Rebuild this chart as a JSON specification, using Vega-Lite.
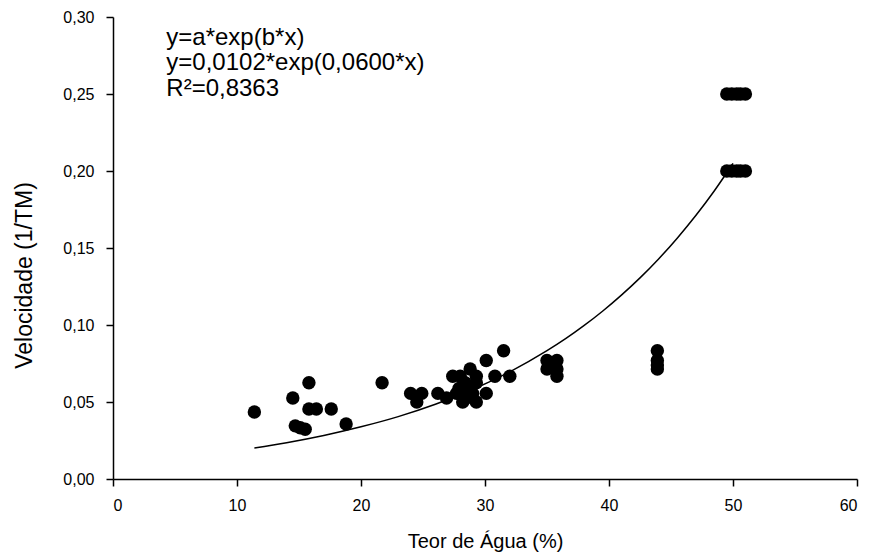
{
  "$schema": "https://vega.github.io/schema/vega-lite/v6.json",
  "width": 744,
  "height": 462,
  "autosize": "none",
  "padding": {"left": 113, "top": 17, "right": 12, "bottom": 77},
  "background": "white",
  "config": {
    "view": {"stroke": null},
    "font": "Liberation Sans",
    "axis": {
      "grid": false,
      "domainColor": "black",
      "domainWidth": 1.5,
      "tickColor": "black",
      "tickWidth": 1.5,
      "tickSize": 7,
      "labelColor": "black",
      "labelFont": "Liberation Sans",
      "labelFontSize": 16,
      "titleFont": "Liberation Sans",
      "titleFontWeight": "normal",
      "titleColor": "black"
    }
  },
  "datasets": {
    "pts": [
      {"teor": 11.4, "vel": 0.0435},
      {"teor": 14.5, "vel": 0.0526},
      {"teor": 14.7, "vel": 0.0345},
      {"teor": 15.1, "vel": 0.0333},
      {"teor": 15.5, "vel": 0.0323},
      {"teor": 15.8, "vel": 0.0625},
      {"teor": 15.8, "vel": 0.0455},
      {"teor": 16.4, "vel": 0.0455},
      {"teor": 17.6, "vel": 0.0455},
      {"teor": 18.8, "vel": 0.0357},
      {"teor": 21.7, "vel": 0.0625},
      {"teor": 24.0, "vel": 0.0556},
      {"teor": 24.9, "vel": 0.0556},
      {"teor": 24.5, "vel": 0.05},
      {"teor": 26.2, "vel": 0.0556},
      {"teor": 26.9, "vel": 0.0526},
      {"teor": 27.4, "vel": 0.0667},
      {"teor": 28.0, "vel": 0.0667},
      {"teor": 28.8, "vel": 0.0714},
      {"teor": 28.4, "vel": 0.0625},
      {"teor": 29.3, "vel": 0.0625},
      {"teor": 29.3, "vel": 0.0667},
      {"teor": 27.7, "vel": 0.0556},
      {"teor": 27.9, "vel": 0.0588},
      {"teor": 28.5, "vel": 0.0588},
      {"teor": 28.5, "vel": 0.0526},
      {"teor": 29.0, "vel": 0.0556},
      {"teor": 29.3, "vel": 0.05},
      {"teor": 28.2, "vel": 0.05},
      {"teor": 30.1, "vel": 0.0556},
      {"teor": 30.1, "vel": 0.0769},
      {"teor": 31.5, "vel": 0.0833},
      {"teor": 30.8, "vel": 0.0667},
      {"teor": 32.0, "vel": 0.0667},
      {"teor": 35.0, "vel": 0.0769},
      {"teor": 35.0, "vel": 0.0714},
      {"teor": 35.8, "vel": 0.0769},
      {"teor": 35.8, "vel": 0.0714},
      {"teor": 35.8, "vel": 0.0667},
      {"teor": 43.9, "vel": 0.0833},
      {"teor": 43.9, "vel": 0.0769},
      {"teor": 43.9, "vel": 0.0741},
      {"teor": 43.9, "vel": 0.0714},
      {"teor": 49.5, "vel": 0.25},
      {"teor": 49.9, "vel": 0.25},
      {"teor": 50.3, "vel": 0.25},
      {"teor": 50.6, "vel": 0.25},
      {"teor": 51.0, "vel": 0.25},
      {"teor": 49.5, "vel": 0.2},
      {"teor": 49.9, "vel": 0.2},
      {"teor": 50.3, "vel": 0.2},
      {"teor": 50.6, "vel": 0.2},
      {"teor": 51.0, "vel": 0.2}
    ],
    "fit": [
      {"teor": 11.4, "vel": 0.0202},
      {"teor": 14, "vel": 0.0236},
      {"teor": 17, "vel": 0.0283},
      {"teor": 20, "vel": 0.0339},
      {"teor": 23, "vel": 0.0405},
      {"teor": 26, "vel": 0.0485},
      {"teor": 29, "vel": 0.0581},
      {"teor": 32, "vel": 0.0696},
      {"teor": 35, "vel": 0.0833},
      {"teor": 36.5, "vel": 0.0911},
      {"teor": 38, "vel": 0.0997},
      {"teor": 39.5, "vel": 0.1091},
      {"teor": 41, "vel": 0.1194},
      {"teor": 42.5, "vel": 0.1306},
      {"teor": 44, "vel": 0.1429},
      {"teor": 45.5, "vel": 0.1564},
      {"teor": 47, "vel": 0.1711},
      {"teor": 48.5, "vel": 0.1872},
      {"teor": 50, "vel": 0.2049}
    ],
    "notes": [
      {"teor": 4.3, "vel": 0.2865, "txt": "y=a*exp(b*x)"},
      {"teor": 4.3, "vel": 0.2700, "txt": "y=0,0102*exp(0,0600*x)"},
      {"teor": 4.3, "vel": 0.2535, "txt": "R²=0,8363"}
    ]
  },
  "encoding": {
    "x": {
      "field": "teor", "type": "quantitative",
      "scale": {"domain": [0, 60], "nice": false, "zero": false},
      "axis": {"values": [0, 10, 20, 30, 40, 50, 60], "title": "Teor de Água (%)", "titleFontSize": 20, "labelPadding": 11, "titlePadding": 18}
    },
    "y": {
      "field": "vel", "type": "quantitative",
      "scale": {"domain": [0, 0.3], "nice": false},
      "axis": {"values": [0, 0.05, 0.1, 0.15, 0.2, 0.25, 0.3], "labelExpr": "replace(format(datum.value, '.2f'), '.', ',')", "title": "Velocidade (1/TM)", "titleFontSize": 23, "titleY": 258, "labelPadding": 12, "titlePadding": 26}
    }
  },
  "layer": [
    {
      "data": {"name": "fit"},
      "mark": {"type": "line", "color": "black", "strokeWidth": 1.5, "interpolate": "monotone"}
    },
    {
      "data": {"name": "pts"},
      "mark": {"type": "circle", "color": "black", "opacity": 1, "size": 180}
    },
    {
      "data": {"name": "notes"},
      "mark": {"type": "text", "align": "left", "baseline": "middle", "fontSize": 24, "color": "black", "font": "Liberation Sans"},
      "encoding": {"text": {"field": "txt"}}
    }
  ]
}
